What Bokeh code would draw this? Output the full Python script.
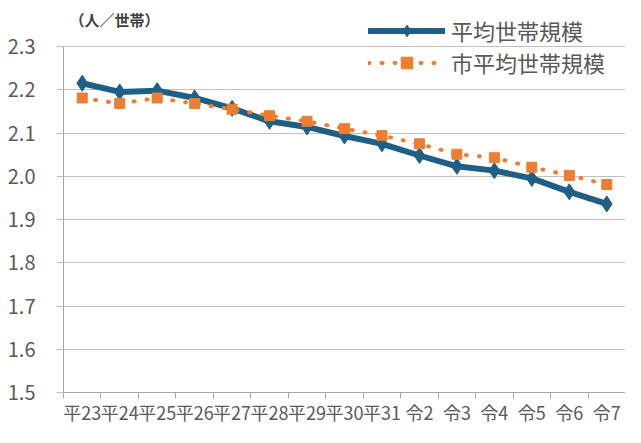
from bokeh.plotting import figure
from bokeh.models import Range1d, FixedTicker, Legend, LegendItem, Label
from bokeh.embed import file_html
from bokeh.resources import INLINE

categories = ["平23", "平24", "平25", "平26", "平27", "平28", "平29", "平30",
              "平31", "令2", "令3", "令4", "令5", "令6", "令7"]
avg_household = [2.215, 2.195, 2.198, 2.181, 2.157, 2.127, 2.114, 2.093,
                 2.075, 2.048, 2.023, 2.013, 1.995, 1.964, 1.936]
city_avg_household = [2.181, 2.168, 2.181, 2.168, 2.155, 2.140, 2.127, 2.110,
                      2.094, 2.075, 2.051, 2.043, 2.021, 2.002, 1.981]
y_ticks = [1.5, 1.6, 1.7, 1.8, 1.9, 2.0, 2.1, 2.2, 2.3]
series_names = ["平均世帯規模", "市平均世帯規模"]
unit_label = "（人／世帯）"

FONT = "Noto Sans CJK JP"
BLUE = "#1F5F86"
ORANGE = "#ED7D31"
TXT = "#595959"

xs = list(range(len(categories)))

p = figure(width=625, height=427, output_backend="svg", toolbar_location=None,
           x_range=Range1d(-0.5, 14.5), y_range=Range1d(1.5, 2.4064),
           min_border_left=63, min_border_right=0, min_border_top=0,
           min_border_bottom=34)
p.outline_line_color = None
p.background_fill_color = "white"
p.border_fill_color = "white"

p.xgrid.visible = False
p.ygrid.grid_line_color = "#BFBFBF"
p.ygrid.grid_line_width = 1

# x axis
p.xaxis.ticker = FixedTicker(ticks=xs, minor_ticks=[i - 0.5 for i in range(len(categories) + 1)])
p.xaxis.major_label_overrides = {i: c for i, c in enumerate(categories)}
p.xaxis.major_tick_out = 0
p.xaxis.major_tick_in = 0
p.xaxis.minor_tick_out = 6
p.xaxis.minor_tick_in = 0
p.xaxis.minor_tick_line_color = "#A6A6A6"
p.xaxis.axis_line_color = "#A6A6A6"
p.xaxis.major_label_text_font = FONT
p.xaxis.major_label_text_font_size = "18px"
p.xaxis.major_label_text_color = TXT
p.xaxis.major_label_standoff = 0

# y axis
p.yaxis.ticker = FixedTicker(ticks=y_ticks)
p.yaxis.bounds = (1.5, 2.3)
p.yaxis.major_label_overrides = {t: f"{t:.1f}" for t in y_ticks}
p.yaxis.major_tick_out = 7
p.yaxis.major_tick_in = 0
p.yaxis.major_tick_line_color = "#BFBFBF"
p.yaxis.minor_tick_line_color = None
p.yaxis.axis_line_color = "#A6A6A6"
p.yaxis.major_label_text_font = FONT
p.yaxis.major_label_text_font_size = "20px"
p.yaxis.major_label_text_color = TXT
p.yaxis.major_label_standoff = 21

l1 = p.line(xs, avg_household, line_color=BLUE, line_width=6, line_join="round", line_cap="round")
s1 = p.scatter(xs, avg_household, marker="diamond", size=16, fill_color=BLUE, line_color=BLUE)

l2 = p.line(xs, city_avg_household, line_color=ORANGE, line_width=4, line_dash="1 12", line_cap="round")
s2 = p.scatter(xs, city_avg_household, marker="square", size=10, fill_color=ORANGE, line_color=ORANGE)

legend = Legend(items=[LegendItem(label=series_names[0], renderers=[l1, s1]),
                       LegendItem(label=series_names[1], renderers=[l2, s2])],
                location=(305, 314), padding=0, margin=0, spacing=0,
                glyph_width=77, glyph_height=29, label_height=29,
                label_standoff=6, border_line_color=None, background_fill_alpha=0,
                label_text_font=FONT, label_text_font_size="22px",
                label_text_color=TXT)
p.add_layout(legend, "center")

p.add_layout(Label(x=6, y=373, x_units="screen", y_units="screen", text=unit_label,
                   text_font=FONT, text_font_size="15px", text_color="#404040",
                   text_font_style="bold", text_baseline="middle"))

open("out.html", "w").write(file_html(p, INLINE))
